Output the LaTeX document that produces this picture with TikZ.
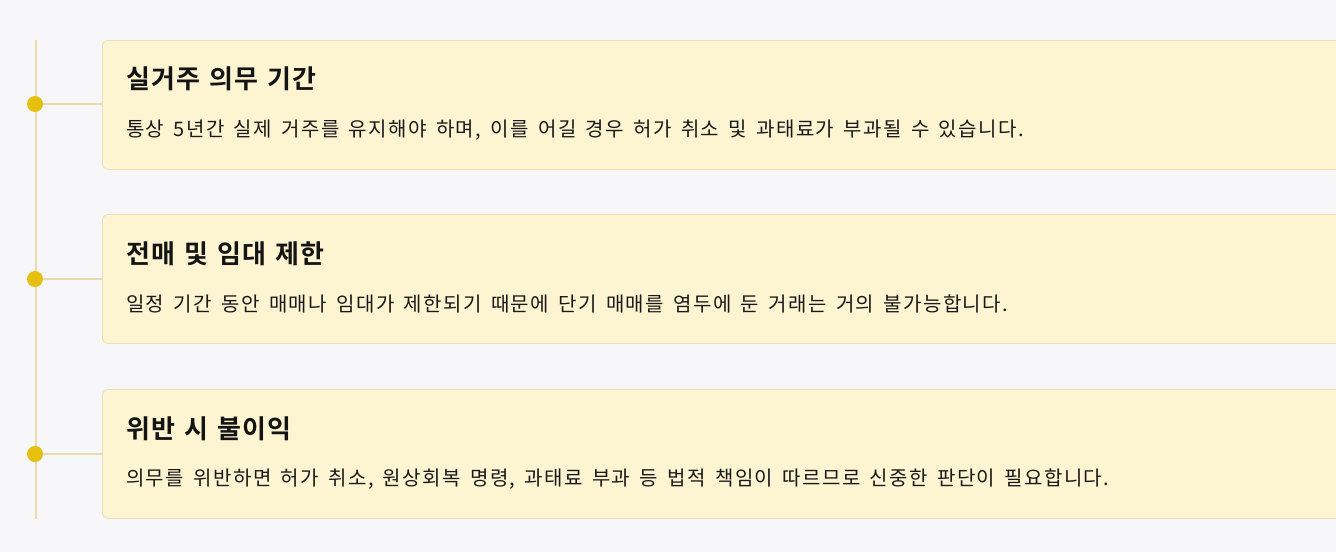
\documentclass[tikz,border=0pt]{standalone}
\usepackage{fontspec}
\setmainfont{Noto Sans CJK KR}
\newfontfamily\bodyfont[WordSpace=1.6, LetterSpace=7]{Noto Sans CJK KR}
\newfontfamily\titlefont[WordSpace=1.3, LetterSpace=4.5]{Noto Sans CJK KR Bold}
\definecolor{bg}{HTML}{F7F7FA}
\definecolor{boxfill}{HTML}{FDF4D1}
\definecolor{boxline}{HTML}{EADFB5}
\definecolor{linecol}{HTML}{E8DCAD}
\definecolor{dotcol}{HTML}{E5C00F}
\tikzset{
  card/.style={draw=boxline, line width=0.8pt, fill=boxfill, rounded corners=6pt, anchor=north west, minimum width=1260pt, minimum height=129pt, inner sep=0pt},
  ttl/.style={anchor=west, font=\titlefont\fontsize{26}{30}\selectfont, inner sep=0pt, text=black!92},
  body/.style={anchor=west, font=\bodyfont\fontsize{20}{24}\selectfont, inner sep=0pt, text=black!90},
  dotn/.style={circle, fill=dotcol, minimum size=16pt, inner sep=0pt},
  conn/.style={draw=linecol, line width=1.6pt}
}
\begin{document}
\begin{tikzpicture}[x=1pt,y=-1pt]
\useasboundingbox (0,0) rectangle (1336,552);
\clip (0,0) rectangle (1336,552);
\fill[bg] (0,0) rectangle (1336,552);
\coordinate (top) at (36,40);
\coordinate (bot) at (36,519);
\draw[conn] (top) -- (bot);
\node[card] (c1) at (102,40) {};
\node[card] (c2) at (102,214) {};
\node[card] (c3) at (102,389) {};
\node[ttl] (t1) at (126,79) {실거주 의무 기간};
\node[body] (b1) at (126,130) {통상 5년간 실제 거주를 유지해야 하며, 이를 어길 경우 허가 취소 및 과태료가 부과될 수 있습니다.};
\node[ttl] (t2) at (126,254) {전매 및 임대 제한};
\node[body] (b2) at (126,304) {일정 기간 동안 매매나 임대가 제한되기 때문에 단기 매매를 염두에 둔 거래는 거의 불가능합니다.};
\node[ttl] (t3) at (126,429) {위반 시 불이익};
\node[body] (b3) at (126,479) {의무를 위반하면 허가 취소, 원상회복 명령, 과태료 부과 등 법적 책임이 따르므로 신중한 판단이 필요합니다.};
\node[dotn] (d1) at (35,104) {};
\node[dotn] (d2) at (35,279) {};
\node[dotn] (d3) at (35,454) {};
\draw[conn] (d1.east) -- (c1.west |- d1.east);
\draw[conn] (d2.east) -- (c2.west |- d2.east);
\draw[conn] (d3.east) -- (c3.west |- d3.east);
\end{tikzpicture}
\end{document}
